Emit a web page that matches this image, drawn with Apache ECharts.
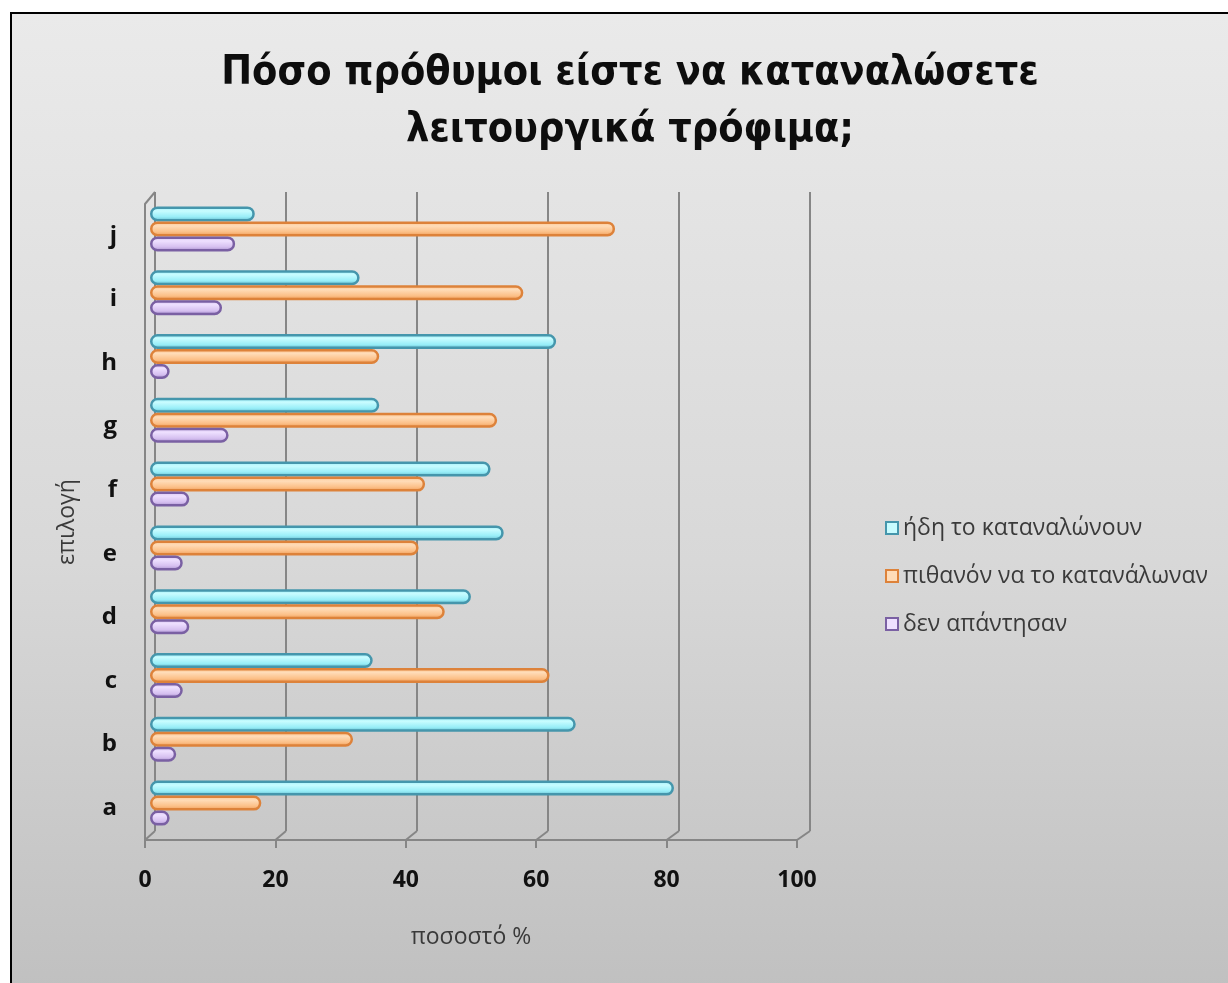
<!DOCTYPE html>
<html>
<head>
<meta charset="utf-8">
<script src="https://cdn.jsdelivr.net/npm/echarts@6/dist/echarts.min.js"></script>
<style>
  html, body { margin: 0; padding: 0; background: #ffffff; overflow: hidden; }
  #frame {
    position: absolute; left: 10px; top: 12px; width: 1240px; height: 1000px;
    border: 2px solid #000; box-sizing: border-box;
    background: linear-gradient(to bottom, #eaeaea 0%, #d8d8d8 55%, #bfbfbf 100%);
  }
  #chart { position: absolute; left: 0; top: 0; width: 1228px; height: 983px; }
</style>
</head>
<body>
<div id="frame"></div>
<div id="chart"></div>
<script>
// Survey options a–j (bottom to top on the chart)
const categories = ['a', 'b', 'c', 'd', 'e', 'f', 'g', 'h', 'i', 'j'];

// Percent of respondents per option
const alreadyConsume = [80, 65, 34, 49, 54, 52, 35, 62, 32, 16];
const wouldConsume   = [17, 31, 61, 45, 41, 42, 53, 35, 57, 71];
const noAnswer       = [3, 4, 5, 6, 5, 6, 12, 3, 11, 13];

const seriesNames = ['ήδη το καταναλώνουν', 'πιθανόν να το κατανάλωναν', 'δεν απάντησαν'];
const xTicks = [0, 20, 40, 60, 80, 100];

const palette = [
  { light: '#c8fcff', base: '#98eef8', dark: '#5fb3c6', edge: '#4596ac' },
  { light: '#ffdcb8', base: '#fcc088', dark: '#ec9650', edge: '#dd823a' },
  { light: '#eee0ff', base: '#d6c0f0', dark: '#a188c8', edge: '#7a60a3' }
];

function tubeFill(p) {
  return new echarts.graphic.LinearGradient(0, 0, 0, 1, [
    { offset: 0, color: p.base },
    { offset: 0.3, color: p.light },
    { offset: 0.7, color: p.base },
    { offset: 1, color: p.dark }
  ]);
}

const gridLineColor = '#868686';
const textFont = '"Open Sans", "Noto Sans", sans-serif';

const chart = echarts.init(document.getElementById('chart'), null, { renderer: 'canvas' });

const valueSets = [alreadyConsume, wouldConsume, noAnswer];

chart.setOption({
  backgroundColor: 'transparent',
  animation: false,
  title: {
    text: 'Πόσο πρόθυμοι είστε να καταναλώσετε\nλειτουργικά τρόφιμα;',
    left: 625, top: 40, textAlign: 'center',
    textStyle: {
      fontFamily: '"DejaVu Sans Condensed", "Open Sans", sans-serif',
      fontSize: 41, fontWeight: 'bold', color: '#0d0d0d', lineHeight: 57
    }
  },
  legend: {
    orient: 'vertical', left: 880, top: 511,
    itemWidth: 12, itemHeight: 12, itemGap: 24,
    icon: 'rect',
    textStyle: { fontFamily: textFont, fontSize: 23, lineHeight: 24, color: '#3a3a3a' },
    data: seriesNames.map((n, i) => ({
      name: n,
      itemStyle: { color: palette[i].light, borderColor: palette[i].edge, borderWidth: 2 }
    }))
  },
  grid: [
    // bars
    { left: 150, width: 655, top: 197, height: 638 },
    // back wall with gridlines
    { left: 155, width: 655, top: 192, height: 639 },
    // front floor edge with labels
    { left: 145, width: 652, top: 204, height: 636 }
  ],
  xAxis: [
    { gridIndex: 0, type: 'value', min: 0, max: 100, interval: 20, show: false },
    {
      gridIndex: 1, type: 'value', min: 0, max: 100, interval: 20,
      axisLine: { show: false }, axisTick: { show: false }, axisLabel: { show: false },
      splitLine: { show: true, lineStyle: { color: gridLineColor, width: 2 } }
    },
    {
      gridIndex: 2, type: 'value', min: 0, max: 100, interval: 20,
      name: 'ποσοστό %', nameLocation: 'middle', nameGap: 86,
      nameTextStyle: { fontFamily: textFont, fontSize: 23, color: '#3a3a3a' },
      axisLine: { show: true, lineStyle: { color: gridLineColor, width: 2 } },
      axisTick: { show: true, inside: false, length: 8, lineStyle: { color: gridLineColor, width: 2 } },
      axisLabel: {
        margin: 29, fontFamily: textFont, fontSize: 23, fontWeight: 'bold', color: '#111',
        formatter: v => xTicks.includes(v) ? String(v) : ''
      },
      splitLine: { show: false }
    }
  ],
  yAxis: [
    { gridIndex: 0, type: 'category', data: categories, show: false },
    { gridIndex: 1, type: 'category', data: categories, show: false },
    {
      gridIndex: 2, type: 'category', data: categories,
      name: 'επιλογή', nameLocation: 'middle', nameGap: 66, nameRotate: 90,
      nameTextStyle: { fontFamily: textFont, fontSize: 23, color: '#3a3a3a' },
      axisLine: { show: true, lineStyle: { color: gridLineColor, width: 2 } },
      axisTick: { show: false },
      axisLabel: { margin: 28, fontFamily: textFont, fontSize: 24, fontWeight: 'bold', color: '#111' },
      splitLine: { show: false }
    }
  ],
  series: valueSets.map((vals, i) => ({
    name: seriesNames[i],
    type: 'bar',
    xAxisIndex: 0, yAxisIndex: 0,
    data: vals,
    barWidth: 15,
    barGap: '0%',
    z: 3,
    itemStyle: {
      color: tubeFill(palette[i]),
      borderColor: palette[i].edge,
      borderWidth: 2.5,
      borderRadius: [7, 7, 7, 7]
    }
  }))
});

// Slanted floor edges joining each front tick to its gridline on the back wall
const frontRect = chart.getModel().getComponent('grid', 2).coordinateSystem.getRect();
const backRect = chart.getModel().getComponent('grid', 1).coordinateSystem.getRect();
const floorLinks = xTicks.map(v => {
  const front = chart.convertToPixel({ xAxisIndex: 2, yAxisIndex: 2 }, [v, 'a']);
  const back = chart.convertToPixel({ xAxisIndex: 1, yAxisIndex: 1 }, [v, 'a']);
  return {
    type: 'line', silent: true, z: 1,
    shape: { x1: front[0], y1: frontRect.y + frontRect.height, x2: back[0], y2: backRect.y + backRect.height },
    style: { stroke: gridLineColor, lineWidth: 2 }
  };
});
floorLinks.push({
  type: 'line', silent: true, z: 1,
  shape: { x1: frontRect.x, y1: frontRect.y, x2: backRect.x, y2: backRect.y },
  style: { stroke: gridLineColor, lineWidth: 2 }
});
chart.setOption({ graphic: floorLinks });
</script>
</body>
</html>
